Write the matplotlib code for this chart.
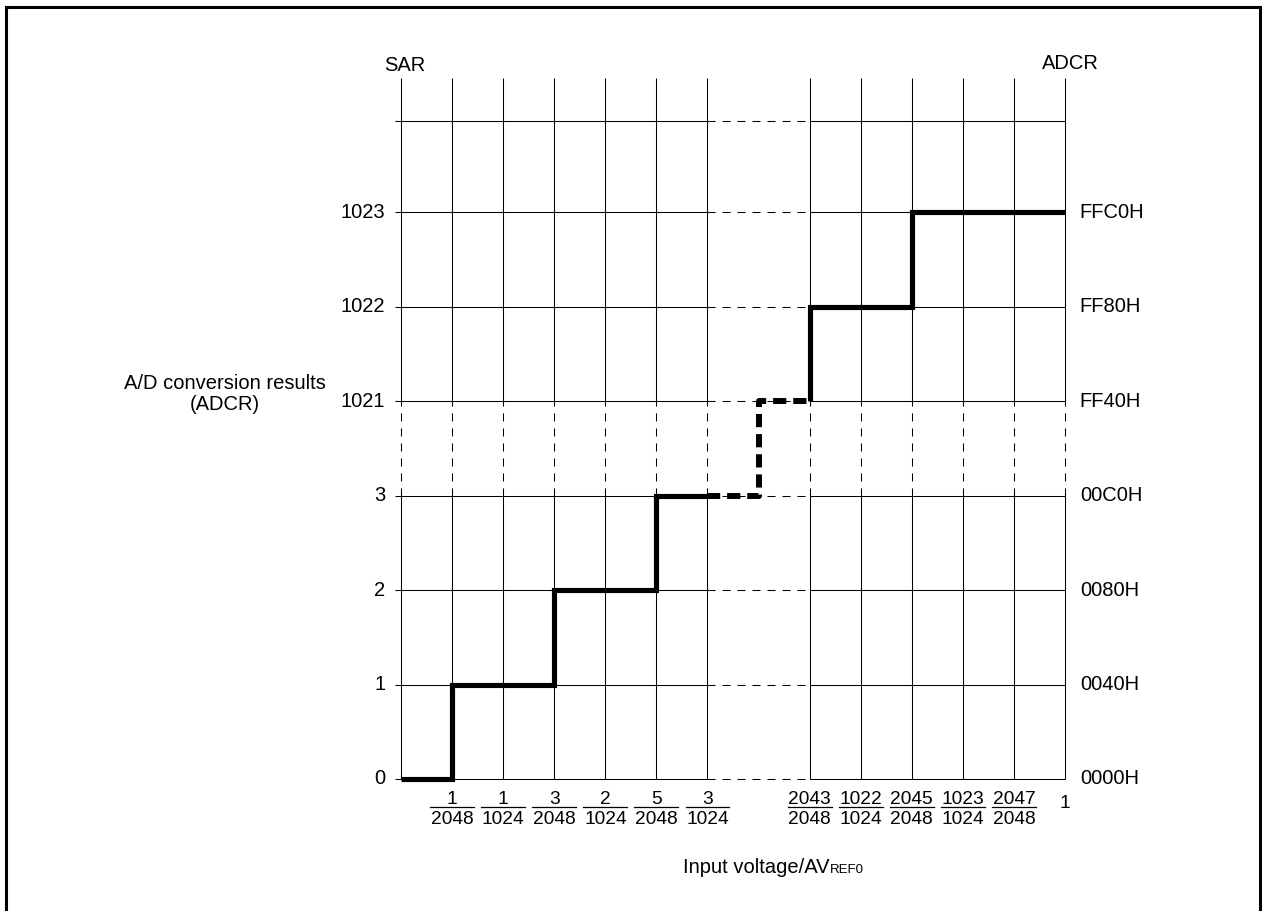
import matplotlib
matplotlib.use('Agg')
import matplotlib.pyplot as plt
from matplotlib.lines import Line2D

plt.rcParams['font.family'] = ['Liberation Sans', 'DejaVu Sans']
plt.rcParams['lines.scale_dashes'] = False

# ---------------- data ----------------
sar_codes = [0, 1, 2, 3, 1021, 1022, 1023]
adcr_codes = ['0000H', '0040H', '0080H', '00C0H', 'FF40H', 'FF80H', 'FFC0H']
tick_k = [1, 2, 3, 4, 5, 6, 2043, 2044, 2045, 2046, 2047]          # input in 1/2048 units
tick_num = ['1', '1', '3', '2', '5', '3', '2043', '1022', '2045', '1023', '2047']
tick_den = ['2048', '1024', '2048', '1024', '2048', '1024', '2048', '1024', '2048', '1024', '2048']
full_scale_k = 2048
full_scale_label = '1'
# staircase: input (1/2048 units) where each code segment starts, and the code
lo_edges = [0, 1, 3, 5, 6]
lo_codes = [0, 1, 2, 3, 3]
hi_edges = [2043, 2043, 2045, 2048]
hi_codes = [1021, 1022, 1023, 1023]

# ---------------- broken-axis mapping ----------------
LO_MAX, HI_MIN, GAP = 6, 2043, 2


def xpos(k):
    return k if k <= LO_MAX else LO_MAX + GAP + (k - HI_MIN)


def ypos(code):
    return sar_codes.index(code)


fig = plt.figure(figsize=(12.62, 9.11), dpi=100)
ax = fig.add_axes([0, 0, 1, 1])
# pixel geometry: x px = 401 + 51.08*u ; y px(from top) = 779 - 94.5*v
ux, x0px = 51.08, 401
vy, y0px = 94.5, 779
ax.set_xlim((0 - x0px) / ux, (1262 - x0px) / ux)
ax.set_ylim((y0px - 911) / vy, (y0px - 0) / vy)
ax.axis('off')

GRID = dict(color='black', lw=0.75, solid_capstyle='butt')
DASH = dict(color='black', lw=0.75, ls=(0, (5.8, 5.0)), dash_capstyle='butt')

xr = xpos(full_scale_k)
x_gap_l, x_gap_r = xpos(LO_MAX), xpos(HI_MIN)
y_brk_lo, y_brk_hi = ypos(3), ypos(1021)
v_top = (y0px - 78) / vy
grid_levels = list(range(len(sar_codes))) + [(y0px - 121) / vy]

# vertical grid lines
for k in [0] + tick_k + [full_scale_k]:
    x = xpos(k)
    ax.plot([x, x], [0, y_brk_lo], **GRID)
    ax.plot([x, x], [y_brk_lo, y_brk_hi], **DASH)
    ax.plot([x, x], [y_brk_hi, v_top], **GRID)

# horizontal grid lines
for lvl in grid_levels:
    ax.plot([-0.11, x_gap_l], [lvl, lvl], **GRID)
    ax.plot([x_gap_l, x_gap_r], [lvl, lvl], **DASH)
    ax.plot([x_gap_r, xr], [lvl, lvl], **GRID)

# staircase
THICK = dict(color='black', lw=3.7, solid_joinstyle='miter', solid_capstyle='butt')
ax.step([xpos(k) for k in lo_edges], [ypos(c) for c in lo_codes], where='post', **THICK)
ax.step([xpos(k) for k in hi_edges], [ypos(c) for c in hi_codes], where='post', **THICK)
x_mid = (x_gap_l + x_gap_r) / 2
ax.step([x_gap_l, x_mid, x_gap_r], [ypos(3), ypos(1021), ypos(1021)], where='post',
        color='black', lw=4.3, ls=(0, (9.5, 5.0)), dash_capstyle='butt',
        solid_joinstyle='miter')

# y tick labels
FS = 14.5
for code, hexs in zip(sar_codes, adcr_codes):
    y = ypos(code)
    ax.text(-0.31, y, str(code), ha='right', va='center', fontsize=FS)
    ax.text(13.29, y, hexs, ha='left', va='center', fontsize=FS)

ax.text(0.07, (y0px - 65) / vy, 'SAR', ha='center', va='center', fontsize=FS)
ax.text(13.1, (y0px - 63) / vy, 'ADCR', ha='center', va='center', fontsize=FS)

# x tick labels (fractions)
FFS = 13.8
bar_w = 0.86
for k, n, d in zip(tick_k, tick_num, tick_den):
    x = xpos(k)
    ax.text(x, (y0px - 799) / vy, n, ha='center', va='center', fontsize=FFS)
    ax.text(x, (y0px - 820) / vy, d, ha='center', va='center', fontsize=FFS)
    ax.plot([x - bar_w / 2, x + bar_w / 2], [(y0px - 807) / vy] * 2, color='black', lw=0.9)
ax.text(xr, (y0px - 804) / vy, full_scale_label, ha='center', va='center', fontsize=FFS)

# axis titles
ax.text(-3.45, (y0px - 383) / vy, 'A/D conversion results', ha='center', va='center', fontsize=FS)
ax.text(-3.45, (y0px - 404) / vy, '(ADCR)', ha='center', va='center', fontsize=FS)
t = ax.text((683 - x0px) / ux, (y0px - 873) / vy, 'Input voltage/AV', ha='left',
            va='baseline', fontsize=FS)
ax.annotate('REF0', xy=(1, 0), xycoords=t, xytext=(0.5, 4.2), textcoords='offset pixels',
            ha='left', va='baseline', fontsize=9.5)

# frame border (left, top, right)
W, H = 1262, 911
bx = [6 / W, 6 / W, 1259.5 / W, 1259.5 / W]
by = [-0.01, 1 - 7 / H, 1 - 7 / H, -0.01]
fig.add_artist(Line2D(bx, by, transform=fig.transFigure, color='black', lw=2.2,
                      solid_joinstyle='miter'))

fig.savefig('out.png', dpi=100)
